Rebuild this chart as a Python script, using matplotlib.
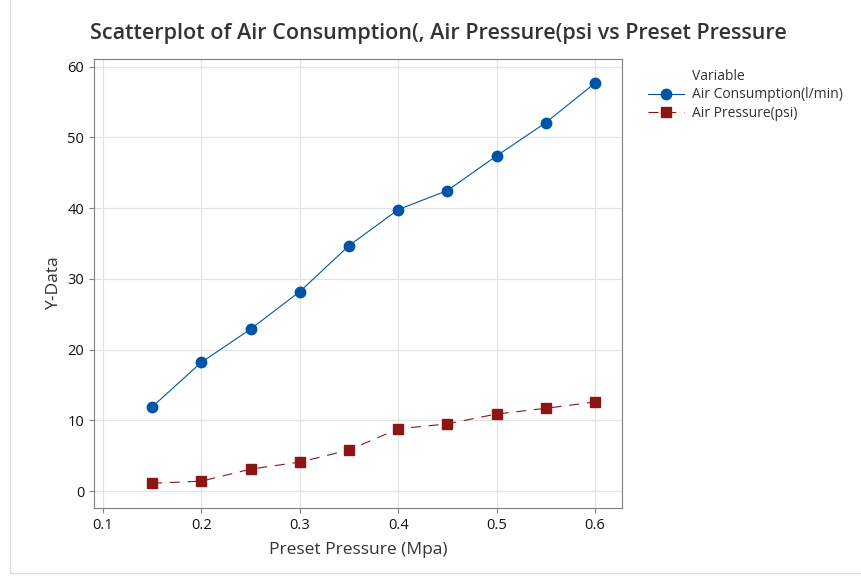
import matplotlib.pyplot as plt
from matplotlib.lines import Line2D

plt.rcParams['font.family'] = ['Open Sans', 'DejaVu Sans']

# Data
preset = [0.15, 0.2, 0.25, 0.3, 0.35, 0.4, 0.45, 0.5, 0.55, 0.6]
air_consumption = [11.9, 18.2, 22.9, 28.2, 34.7, 39.8, 42.5, 47.4, 52.1, 57.7]
air_pressure = [1.1, 1.4, 3.1, 4.1, 5.8, 8.8, 9.5, 10.9, 11.7, 12.6]
xticks = [0.1, 0.2, 0.3, 0.4, 0.5, 0.6]
yticks = [0, 10, 20, 30, 40, 50, 60]

blue = '#0054A6'
red = '#8C1515'

fig = plt.figure(figsize=(8.62, 5.76), dpi=100)
ax = fig.add_axes([0.109, 0.118, 0.6126, 0.7796])

ax.plot(preset, air_consumption, color=blue, lw=0.8, marker='o', ms=7.5,
        label='Air Consumption(l/min)')
ax.plot(preset, air_pressure, color=red, lw=0.8, marker='s', ms=7, dashes=(9, 7),
        label='Air Pressure(psi)')

ax.set_xlim(0.0909, 0.6274)
ax.set_ylim(-2.4, 61.1)
ax.set_xticks(xticks)
ax.set_yticks(yticks)
ax.set_xticklabels(['0.1', '0.2', '0.3', '0.4', '0.5', '0.6'])
ax.grid(True, color='#e3e3e3', lw=0.9)
ax.set_axisbelow(True)
for s in ax.spines.values():
    s.set_color('#7f7f7f')
ax.tick_params(colors='#7f7f7f', labelcolor='#111111', labelsize=10.5, length=3.5)

ax.set_xlabel('Preset Pressure (Mpa)', fontsize=12.5, color='#333333', labelpad=7)
ax.set_ylabel('Y-Data', fontsize=12.5, color='#333333')
fig.text(0.508, 0.942, 'Scatterplot of Air Consumption(, Air Pressure(psi vs Preset Pressure',
         fontsize=15.5, fontweight='semibold', color='#333333', ha='center', va='center')

# Legend
handles = [Line2D([], [], color='none'),
           Line2D([], [], color=blue, lw=0.8, marker='o', ms=7.5),
           Line2D([], [], color=red, lw=0.8, marker='s', ms=7, dashes=(9, 7))]
leg = fig.legend(handles, ['Variable', 'Air Consumption(l/min)', 'Air Pressure(psi)'],
                 loc='upper left', bbox_to_anchor=(0.745, 0.89), frameon=False,
                 fontsize=10, handlelength=2.6, handletextpad=0.6, labelspacing=0.25,
                 borderaxespad=0)
for t in leg.get_texts():
    t.set_color('#333333')

# light frame on left and bottom of the figure
fig.add_artist(Line2D([0.012, 0.012], [0.005, 1], color='#dddddd', lw=1))
fig.add_artist(Line2D([0.012, 1], [0.005, 0.005], color='#dddddd', lw=1))

fig.savefig('out.png', dpi=100)
